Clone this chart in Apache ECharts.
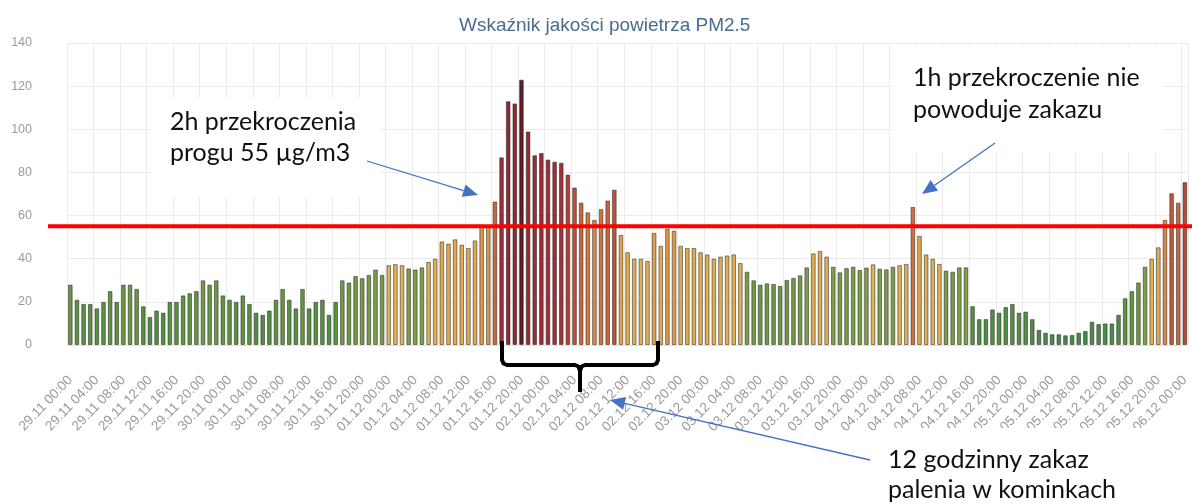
<!DOCTYPE html>
<html>
<head>
<meta charset="utf-8">
<script src="https://cdn.jsdelivr.net/npm/echarts@6/dist/echarts.min.js"></script>
<style>
  html, body { margin: 0; padding: 0; background: #fff; }
  #chart { width: 1192px; height: 504px; }
</style>
</head>
<body>
<div id="chart"></div>
<script>
const days = ['29.11', '30.11', '01.12', '02.12', '03.12', '04.12', '05.12', '06.12']

// hourly categories, 29.11 00:00 .. 06.12 00:00
const hours = []
days.forEach((d, i) => {
  const n = i === days.length - 1 ? 1 : 24
  for (let h = 0; h < n; h++) hours.push(d + ' ' + String(h).padStart(2, '0') + ':00')
})

const pm25 = [
  28, 21, 19, 19, 17, 20, 25, 20, 28, 28, 26, 18, 13, 16, 15, 20, 20, 23, 24, 25,
  30, 28, 30, 23, 21, 20, 23, 19, 15, 14, 16, 21, 26, 21, 17, 26, 17, 20, 21, 14, 20,
  30, 29, 32, 31, 32.5, 35, 32.5,
  37, 37.5, 37, 35.5, 35, 36, 38.5, 40, 48, 47, 49, 46.5, 45, 48.5, 55, 55,
  66.5, 87, 113, 112, 123, 99, 88, 89, 86, 85, 84.5, 79, 73, 66, 61.5, 58, 63, 67, 72,
  51, 43, 40, 40, 39, 52, 46, 54, 53, 46, 45, 45, 43, 42, 40, 41, 41.5, 42, 38, 34, 30, 28,
  28.6, 28.3, 27.4, 30.2, 31.1, 32.3, 36, 42.5, 43.6, 41, 36.3, 33.7, 35.7, 36.3, 34.8, 35.9, 37.4, 35.4, 35.1, 36.3, 37,
  37.6, 64, 50.6, 42, 40, 37.6, 34.5, 34, 36, 36, 18, 12, 12, 16.5, 15, 17.6, 19, 15, 15.5, 12, 7,
  5.7, 5, 5, 4.5, 4.6, 5.7, 6.5, 10.8, 9.7, 10, 10, 14, 21.7, 25, 29, 36.3, 40, 45.3, 58, 70.4, 66, 75.5
]

const limit = 55

// colour ramp by value
const stops = [
  [0, '#3d8a55'], [13, '#4b8e47'], [25, '#619642'], [36.5, '#7c9f4b'],
  [36.6, '#dbb25b'], [50, '#dfa752'], [57, '#d68c4a'], [66, '#c66842'],
  [76, '#b04a3b'], [86, '#9a2e3c'], [114, '#8f2838'], [123, '#5b1e26']
]

function hex(c) {
  return [1, 3, 5].map((i) => parseInt(c.slice(i, i + 2), 16))
}

function colorFor(v) {
  if (v <= stops[0][0]) return stops[0][1]
  for (let i = 1; i < stops.length; i++) {
    if (v <= stops[i][0]) {
      const [v0, c0] = stops[i - 1]
      const [v1, c1] = stops[i]
      const t = (v - v0) / (v1 - v0)
      const a = hex(c0), b = hex(c1)
      return 'rgb(' + a.map((x, k) => Math.round(x + (b[k] - x) * t)).join(',') + ')'
    }
  }
  return stops[stops.length - 1][1]
}

const blue = '#4472c4'
const noteFont = '25px Lato'

function arrow(x1, y1, x2, y2) {
  const a = Math.atan2(y2 - y1, x2 - x1)
  const len = 15, half = 6.5
  const bx = x2 - len * Math.cos(a), by = y2 - len * Math.sin(a)
  const nx = -Math.sin(a) * half, ny = Math.cos(a) * half
  return [
    { type: 'line', z: 100, shape: { x1, y1, x2: bx, y2: by }, style: { stroke: blue, lineWidth: 1.3 } },
    { type: 'polygon', z: 100, shape: { points: [[x2, y2], [bx + nx, by + ny], [bx - nx, by - ny]] }, style: { fill: blue } }
  ]
}

function note(x, y, w, h, tx, ty, text, lh) {
  return [
    { type: 'rect', z: 90, shape: { x, y, width: w, height: h }, style: { fill: '#fff' } },
    { type: 'text', z: 100, x: tx, y: ty, style: { text, font: noteFont, fill: '#111', lineHeight: lh, verticalAlign: 'top' } }
  ]
}

const brace = { stroke: '#000', lineWidth: 4, fill: null, lineJoin: 'round' }

const chart = echarts.init(document.getElementById('chart'))

chart.setOption({
  animation: false,
  backgroundColor: '#fff',
  title: {
    text: 'Wskaźnik jakości powietrza PM2.5',
    left: 454,
    top: 11,
    textStyle: { color: '#496c8f', fontSize: 19, fontWeight: 'normal', fontFamily: 'Liberation Sans' }
  },
  grid: { left: 67, right: 3, top: 43, bottom: 159 },
  xAxis: {
    type: 'category',
    data: hours,
    boundaryGap: true,
    axisLine: { lineStyle: { color: '#e2e2e2' } },
    axisTick: { interval: 3, length: 10, lineStyle: { color: '#e2e2e2' } },
    axisLabel: { interval: 3, rotate: 46, margin: 33, color: '#999', fontSize: 13.5, fontFamily: 'Liberation Sans' },
    splitLine: { show: true, interval: 3, lineStyle: { color: '#ebebeb' } }
  },
  yAxis: {
    type: 'value',
    min: 0,
    max: 140,
    interval: 20,
    axisLine: { show: false },
    axisTick: { show: false },
    axisLabel: { color: '#999', fontSize: 12.5, margin: 35, fontFamily: 'Liberation Sans' },
    splitLine: { lineStyle: { color: '#ebebeb' } }
  },
  series: [
    {
      type: 'bar',
      data: pm25,
      barWidth: '70%',
      itemStyle: {
        color: (p) => colorFor(p.value),
        borderColor: 'rgba(35,30,20,0.5)',
        borderWidth: 1
      }
    }
  ],
  graphic: [
    ...note(150, 97, 230, 100, 170, 106, '2h przekroczenia\nprogu 55 µg/m3', 31),
    ...note(893, 47, 270, 105, 913, 62, '1h przekroczenie nie\npowoduje zakazu', 32),
    ...note(890, 428, 302, 76, 888, 445, '12 godzinny zakaz\npalenia w kominkach', 30),
    ...arrow(367, 161, 478, 195),
    ...arrow(995, 143, 922, 194),
    ...arrow(870, 460, 610, 400),
    {
      type: 'polyline', z: 100,
      shape: { points: [[502, 341], [502, 360], [503.5, 363.5], [507, 365], [575, 365], [578.5, 366.5], [580, 371], [580, 392]] },
      style: brace
    },
    {
      type: 'polyline', z: 100,
      shape: { points: [[580, 371], [581.5, 366.5], [585, 365], [653, 365], [656.5, 363.5], [658, 360], [658, 341]] },
      style: brace
    }
  ]
})

// hand-drawn limit line: y from the value axis, runs a bit past the plot on the left
const limitY = chart.convertToPixel({ yAxisIndex: 0 }, limit)
chart.setOption({
  graphic: [
    { id: 'limitLine', type: 'line', z: 80, shape: { x1: 48, y1: limitY, x2: 1192, y2: limitY }, style: { stroke: '#ff0000', lineWidth: 4 } }
  ]
})
</script>
</body>
</html>
